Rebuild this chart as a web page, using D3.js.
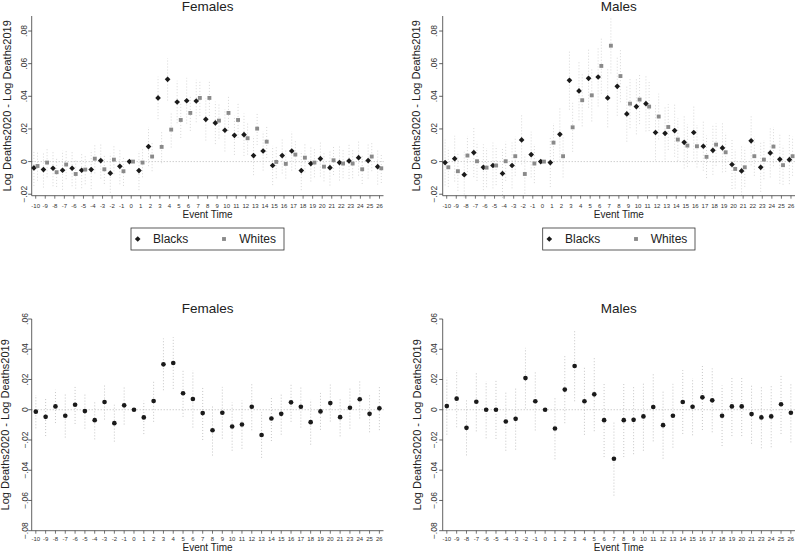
<!DOCTYPE html>
<html><head><meta charset="utf-8">
<script src="https://cdn.jsdelivr.net/npm/d3@7/dist/d3.min.js"></script>
<style>body{margin:0;background:#fff;} svg{display:block;font-family:"Liberation Sans",Arial,Helvetica,sans-serif;}</style>
</head><body><svg id="c" width="796" height="553"></svg>
<script>
// ---------- DATA ----------
const eventTop = [-10,-9,-8,-7,-6,-5,-4,-3,-2,-1,0,1,2,3,4,5,6,7,8,9,10,11,12,13,14,15,16,17,18,19,20,21,22,23,24,25,26];
const eventBottom = [-10,-9,-8,-7,-6,-5,-4,-3,-2,-1,0,1,2,3,4,5,6,7,8,9,10,11,12,13,14,15,16,17,18,19,20,21,23,24,25,26];

// Top-left: Females, Blacks vs Whites
const femBlack = [-0.0039,-0.0049,-0.0041,-0.0053,-0.0041,-0.0053,-0.0049,0.0006,-0.0071,-0.0029,0,-0.0055,0.0092,0.039,0.0504,0.0365,0.0373,0.0371,0.0259,0.0237,0.0192,0.0161,0.0165,0.0037,0.0065,-0.0024,0.0037,0.0065,-0.0055,-0.0012,0.0018,-0.0037,-0.0006,0.0004,0.0024,0.0006,-0.0031];
const femBlackCI = [0.011,0.011,0.011,0.012,0.011,0.011,0.012,0.011,0.012,0.011,0,0.012,0.012,0.013,0.013,0.013,0.014,0.013,0.013,0.013,0.013,0.012,0.013,0.012,0.012,0.012,0.011,0.012,0.012,0.011,0.011,0.011,0.011,0.011,0.011,0.011,0.011];
const femWhite = [-0.0027,-0.0006,-0.0065,-0.0018,-0.0076,-0.0049,0.0018,-0.0047,0.0012,-0.0059,0,-0.0006,0.0031,0.009,0.0196,0.0255,0.0298,0.039,0.039,0.0251,0.0298,0.0255,0.0143,0.0202,0.0122,-0.0002,-0.0014,0.0043,0.0024,-0.0006,-0.0031,0.0008,-0.0012,-0.0012,-0.0047,0.0031,-0.0041];
const femWhiteCI = [0.009,0.009,0.009,0.009,0.009,0.009,0.009,0.009,0.009,0.009,0,0.009,0.009,0.010,0.011,0.011,0.011,0.011,0.011,0.011,0.011,0.011,0.010,0.010,0.010,0.010,0.009,0.009,0.009,0.009,0.009,0.009,0.009,0.009,0.009,0.009,0.009];

// Top-right: Males, Blacks vs Whites
const maleBlack = [-0.0006,0.0018,-0.008,0.0055,-0.0035,-0.0024,-0.0073,-0.0024,0.0133,0.0043,0,-0.0006,0.0167,0.0498,0.0433,0.051,0.0518,0.039,0.0461,0.0292,0.0337,0.0355,0.0178,0.0173,0.019,0.0118,0.0178,0.0094,0.0069,0.0084,-0.0018,-0.0057,0.0127,-0.0035,0.0053,0.0014,0.0012];
const maleBlackCI = [0.014,0.014,0.014,0.015,0.014,0.014,0.015,0.014,0.015,0.014,0,0.015,0.016,0.018,0.018,0.018,0.018,0.018,0.018,0.017,0.017,0.017,0.017,0.016,0.016,0.016,0.016,0.015,0.015,0.015,0.015,0.015,0.015,0.015,0.015,0.015,0.015];
const maleWhite = [-0.0035,-0.0059,0.0037,0.0002,-0.0037,-0.0024,0.0002,0.0033,-0.0076,-0.0012,0,0.0116,0.0033,0.021,0.0376,0.0406,0.0586,0.071,0.0524,0.0355,0.038,0.0337,0.0276,0.0212,0.0135,0.0098,0.0094,0.0029,0.0104,0.0057,-0.0045,-0.0035,0.0033,0.0012,0.0092,-0.0022,0.0033];
const maleWhiteCI = [0.012,0.012,0.012,0.012,0.012,0.012,0.012,0.012,0.012,0.012,0,0.012,0.013,0.015,0.016,0.016,0.017,0.017,0.016,0.015,0.015,0.015,0.014,0.014,0.013,0.013,0.013,0.013,0.013,0.012,0.012,0.012,0.012,0.012,0.012,0.012,0.012];

// Bottom-left: Females (difference)
const femDiff = [-0.0013,-0.0047,0.0022,-0.004,0.0033,-0.0009,-0.0069,0.0051,-0.0089,0.0029,0,-0.0051,0.0058,0.030,0.0309,0.0109,0.0071,-0.0022,-0.0136,-0.002,-0.0111,-0.0098,0.002,-0.0167,-0.0058,-0.0027,0.0049,0.002,-0.0082,-0.0011,0.0044,-0.0049,0.0013,0.0069,-0.0027,0.0009];
const femDiffCI = [0.011,0.0127,0.011,0.0144,0.0127,0.0116,0.0127,0.0116,0.0122,0.0127,0,0.011,0.0138,0.0171,0.0171,0.0156,0.0189,0.0178,0.0167,0.0171,0.016,0.016,0.0156,0.0151,0.0149,0.0138,0.0129,0.0138,0.0149,0.0122,0.0122,0.0127,0.0138,0.0127,0.0122,0.0144];

// Bottom-right: Males (difference)
const maleDiff = [0.0024,0.0073,-0.012,0.0053,0,0,-0.0078,-0.006,0.0209,0.0056,0,-0.0124,0.0133,0.0289,0.0056,0.0102,-0.0069,-0.0324,-0.0069,-0.0067,-0.0044,0.0018,-0.0102,-0.004,0.0051,0.002,0.0082,0.0062,-0.004,0.0022,0.0022,-0.0029,-0.0051,-0.0044,0.0036,-0.002];
const maleDiffCI = [0.0189,0.0189,0.0182,0.0196,0.0189,0.0193,0.0193,0.0204,0.02,0.0193,0,0.0204,0.0222,0.0233,0.0222,0.0244,0.0244,0.0244,0.0244,0.0227,0.0227,0.0227,0.0222,0.0211,0.0211,0.0189,0.0216,0.0211,0.02,0.0196,0.0196,0.0196,0.0204,0.0204,0.0196,0.0196];

const yTicksTop = [-0.02,0,0.02,0.04,0.06,0.08];
const yTicksBottom = [-0.08,-0.06,-0.04,-0.02,0,0.02,0.04,0.06];
const legendNames = ["Blacks","Whites"];

// ---------- LAYOUT ----------
const panels = [
  {title:"Females", labels:eventTop, ciCol:"#cdcdcd", series:[{v:femBlack,ci:femBlackCI,shape:"diamond",off:-1.8},{v:femWhite,ci:femWhiteCI,shape:"square",off:1.8}],
   x0:31.7, x1:383.5, y0:16, y1:195.7, dom:[-0.0209,0.0892], ticks:yTicksTop,
   titleY:10.5, tickLabY:208, xTitleY:218, yTitleX:10.5, yTickX:27, legend:{x:131,y:228,w:153,h:22,m1:137.7,t1:153,m2:224,t2:239.3}},
  {title:"Males", labels:eventTop, ciCol:"#cdcdcd", series:[{v:maleBlack,ci:maleBlackCI,shape:"diamond",off:-1.6},{v:maleWhite,ci:maleWhiteCI,shape:"square",off:1.6}],
   x0:442.7, x1:795, y0:16, y1:195.7, dom:[-0.0209,0.0892], ticks:yTicksTop,
   titleY:10.5, tickLabY:208, xTitleY:218, yTitleX:419.5, yTickX:436.7, legend:{x:542.7,y:228,w:152.3,h:22,m1:549.3,t1:565,m2:636,t2:650.7}},
  {title:"Females", labels:eventBottom, ciCol:"#b8b8b8", series:[{v:femDiff,ci:femDiffCI,shape:"circle",off:0}],
   x0:31.7, x1:383.5, y0:319, y1:530.7, dom:[-0.08,0.06], ticks:yTicksBottom,
   titleY:313, tickLabY:540.5, xTitleY:551, yTitleX:8.5, yTickX:28, legend:null},
  {title:"Males", labels:eventBottom, ciCol:"#b8b8b8", series:[{v:maleDiff,ci:maleDiffCI,shape:"circle",off:0}],
   x0:442.7, x1:795, y0:319, y1:530.7, dom:[-0.08,0.06], ticks:yTicksBottom,
   titleY:313, tickLabY:540.5, xTitleY:551, yTitleX:420.5, yTickX:436.7, legend:null}
];

const svg = d3.select("#c");
const axisCol = "#3a3a3a";
const fmt = v => v === 0 ? "0" : d3.format(".2f")(v).replace("0.", ".");
const sym = {
  diamond: d3.symbol().type(d3.symbolSquare).size(16),
  square: d3.symbol().type(d3.symbolSquare).size(15),
  circle: d3.symbol().type(d3.symbolCircle).size(17)
};
const fill = {diamond:"#1a1a1a", square:"#8a8a8a", circle:"#1a1a1a"};

panels.forEach(p => {
  const g = svg.append("g");
  const x = d3.scalePoint().domain(p.labels).range([p.x0, p.x1]).padding(0.42);
  const y = d3.scaleLinear().domain(p.dom).range([p.y1, p.y0]);

  // zero reference line
  g.append("line").attr("x1", p.x0).attr("x2", p.x1).attr("y1", y(0)).attr("y2", y(0))
    .attr("stroke", "#a8a8a8").attr("stroke-width", 0.8).attr("stroke-dasharray", "1,2");

  // confidence intervals
  p.series.forEach(s => {
    g.append("g").selectAll("line").data(p.labels.map((l,i)=>({l, v:s.v[i], c:s.ci[i]})).filter(d=>d.c>0))
      .join("line")
      .attr("x1", d => x(d.l) + s.off).attr("x2", d => x(d.l) + s.off)
      .attr("y1", d => y(d.v - d.c)).attr("y2", d => y(d.v + d.c))
      .attr("stroke", p.ciCol).attr("stroke-width", 0.8).attr("stroke-dasharray", "1,2");
  });
  // markers
  p.series.forEach(s => {
    g.append("g").selectAll("path").data(p.labels.map((l,i)=>({l, v:s.v[i]})))
      .join("path")
      .attr("d", sym[s.shape])
      .attr("transform", d => `translate(${x(d.l) + s.off},${y(d.v)})` + (s.shape === "diamond" ? " rotate(45)" : ""))
      .attr("fill", fill[s.shape]);
  });

  // y axis
  g.append("line").attr("x1", p.x0).attr("x2", p.x0).attr("y1", p.y0).attr("y2", p.y1)
    .attr("stroke", axisCol).attr("stroke-width", 0.8);
  p.ticks.forEach(t => {
    g.append("line").attr("x1", p.x0 - 3.5).attr("x2", p.x0).attr("y1", y(t)).attr("y2", y(t))
      .attr("stroke", axisCol).attr("stroke-width", 0.8);
    g.append("text").attr("transform", `translate(${p.yTickX},${y(t)}) rotate(-90)`)
      .attr("text-anchor", "middle").attr("font-size", 8.5).attr("fill", "#333").text(fmt(t));
  });
  // x axis
  g.append("line").attr("x1", p.x0).attr("x2", p.x1).attr("y1", p.y1).attr("y2", p.y1)
    .attr("stroke", axisCol).attr("stroke-width", 0.8);
  p.labels.forEach(l => {
    g.append("line").attr("x1", x(l)).attr("x2", x(l)).attr("y1", p.y1).attr("y2", p.y1 + 3)
      .attr("stroke", axisCol).attr("stroke-width", 0.7);
    g.append("text").attr("x", x(l)).attr("y", p.tickLabY).attr("text-anchor", "middle")
      .attr("font-size", 6).attr("fill", "#333").text(l);
  });
  // titles
  const cx = (p.x0 + p.x1) / 2;
  g.append("text").attr("x", cx).attr("y", p.titleY).attr("text-anchor", "middle")
    .attr("font-size", 13.5).attr("fill", "#222").text(p.title);
  g.append("text").attr("x", cx).attr("y", p.xTitleY).attr("text-anchor", "middle")
    .attr("font-size", 10).attr("fill", "#222").text("Event Time");
  g.append("text").attr("transform", `translate(${p.yTitleX},${(p.y0 + p.y1) / 2}) rotate(-90)`)
    .attr("text-anchor", "middle").attr("font-size", 11).attr("fill", "#222").text("Log Deaths2020 - Log Deaths2019");

  // legend
  if (p.legend) {
    const L = p.legend;
    g.append("rect").attr("x", L.x).attr("y", L.y).attr("width", L.w).attr("height", L.h)
      .attr("fill", "none").attr("stroke", "#333").attr("stroke-width", 0.8);
    const cy = L.y + L.h / 2;
    g.append("path").attr("d", sym.diamond).attr("transform", `translate(${L.m1},${cy}) rotate(45)`).attr("fill", fill.diamond);
    g.append("text").attr("x", L.t1).attr("y", cy + 4.3).attr("font-size", 12).attr("fill", "#222").text(legendNames[0]);
    g.append("path").attr("d", sym.square).attr("transform", `translate(${L.m2},${cy})`).attr("fill", fill.square);
    g.append("text").attr("x", L.t2).attr("y", cy + 4.3).attr("font-size", 12).attr("fill", "#222").text(legendNames[1]);
  }
});
</script>
</body></html>
